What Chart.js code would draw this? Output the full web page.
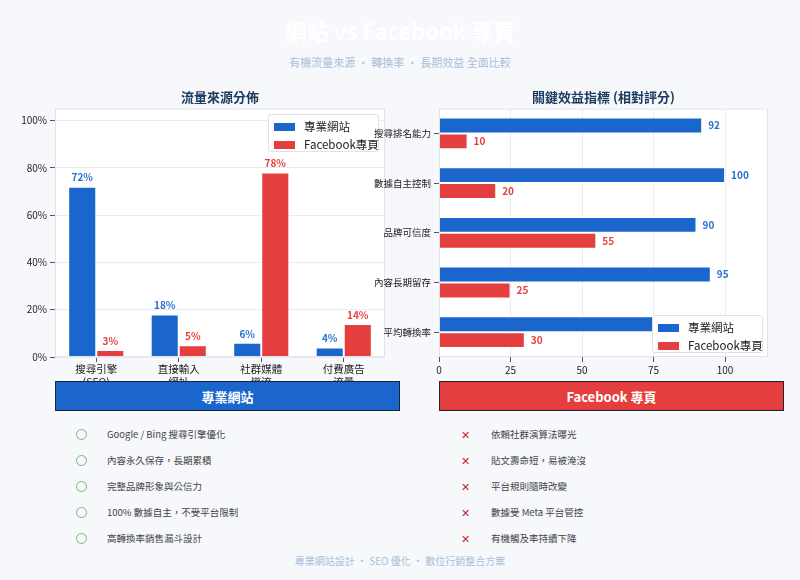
<!DOCTYPE html>
<html>
<head>
<meta charset="utf-8">
<script src="https://cdn.jsdelivr.net/npm/chart.js@4"></script>
<style>
  body { margin: 0; width: 800px; height: 580px; background: #f6f8fc; font-family: "Noto Sans CJK TC", "Noto Sans", sans-serif; position: relative; overflow: hidden; }
  .abs { position: absolute; }
  #title { top: 14px; left: 0; width: 800px; text-align: center; font-size: 22px; font-weight: bold; color: #ffffff; }
  #subtitle { top: 54px; left: 0; width: 800px; text-align: center; font-size: 11px; color: #a9bedb; }
  #footer { top: 553px; left: 0; width: 800px; text-align: center; font-size: 10px; color: #a9bedb; }
  .legend { background: #fff; border: 1px solid #dde2e8; border-radius: 3px; font-size: 11.5px; color: #222; z-index: 5; box-sizing: border-box; padding: 2px 5px; }
  .legend div { height: 18px; line-height: 18px; white-space: nowrap; }
  .legend span { display: inline-block; width: 21px; height: 8px; margin-right: 9px; }
  .banner { top: 381px; width: 345px; height: 30px; line-height: 30px; text-align: center; color: #fff; font-weight: bold; font-size: 13px; box-sizing: border-box; border: 1px solid #1c2533; }
  .item { font-size: 9.5px; color: #444; height: 16px; line-height: 16px; white-space: nowrap; }
  .circ { width: 9px; height: 9px; border: 1.3px solid #6cbf6c; border-radius: 50%; }
  .cross { color: #c62828; font-size: 11px; line-height: 16px; }
</style>
</head>
<body>
<div id="title" class="abs">網站 vs Facebook 專頁</div>
<div id="subtitle" class="abs">有機流量來源 · 轉換率 · 長期效益 全面比較</div>

<canvas id="left" class="abs" width="400" height="305" style="left:0;top:84px;"></canvas>

<div class="legend abs" style="left:268px;top:114px;width:111px;height:38px;">
  <div><span style="background:#1a66cc"></span>專業網站</div>
  <div><span style="background:#e53e3e"></span>Facebook專頁</div>
</div>

<canvas id="right" class="abs" width="460" height="305" style="left:340px;top:84px;z-index:6;"></canvas>

<div class="legend abs" style="left:652px;top:315px;width:111px;height:38px;z-index:7;">
  <div><span style="background:#1a66cc"></span>專業網站</div>
  <div><span style="background:#e53e3e"></span>Facebook專頁</div>
</div>

<div class="banner abs" style="left:55px;background:#1a66cc;z-index:8;">專業網站</div>
<div class="banner abs" style="left:439px;background:#e53e3e;z-index:8;">Facebook 專頁</div>

<div id="lists"></div>
<div id="footer" class="abs">專業網站設計 · SEO 優化 · 數位行銷整合方案</div>

<script>
const sourceLabels = [["搜尋引擎", "(SEO)"], ["直接輸入", "網址"], ["社群媒體", "導流"], ["付費廣告", "流量"]];
const sourceWebsite = [72, 18, 6, 4];
const sourceFacebook = [3, 5, 78, 14];

const metricLabels = ["搜尋排名能力", "數據自主控制", "品牌可信度", "內容長期留存", "平均轉換率"];
const metricWebsite = [92, 100, 90, 95, 85];
const metricFacebook = [10, 20, 55, 25, 30];

const websitePros = ["Google / Bing 搜尋引擎優化", "內容永久保存，長期累積", "完整品牌形象與公信力", "100% 數據自主，不受平台限制", "高轉換率銷售漏斗設計"];
const facebookCons = ["依賴社群演算法曝光", "貼文壽命短，易被淹沒", "平台規則隨時改變", "數據受 Meta 平台管控", "有機觸及率持續下降"];

const BLUE = "#1a66cc", RED = "#e53e3e";
const FONT = "'Noto Sans CJK TC', 'Noto Sans', sans-serif";
Chart.defaults.font.family = FONT;
Chart.defaults.color = "#333";

// lists
let lists = document.getElementById("lists");
websitePros.forEach(function (t, i) {
    let y = 434 + i * 26;
    lists.insertAdjacentHTML("beforeend",
        '<div class="abs circ" style="left:76px;top:' + (y - 5.5) + 'px"></div>' +
        '<div class="abs item" style="left:107px;top:' + (y - 8) + 'px">' + t + '</div>');
});
facebookCons.forEach(function (t, i) {
    let y = 434 + i * 26;
    lists.insertAdjacentHTML("beforeend",
        '<div class="abs cross" style="left:461px;top:' + (y - 8) + 'px">✕</div>' +
        '<div class="abs item" style="left:491px;top:' + (y - 8) + 'px">' + t + '</div>');
});

const plotBox = {
    id: "plotBox",
    beforeDraw(chart) {
        let a = chart.chartArea, c = chart.ctx;
        c.save();
        c.fillStyle = "#fff";
        c.fillRect(a.left, a.top, a.right - a.left, a.bottom - a.top);
        c.restore();
    },
    afterDraw(chart) {
        let a = chart.chartArea, c = chart.ctx;
        c.save();
        c.strokeStyle = "#dfe4ea";
        c.lineWidth = 1;
        c.strokeRect(a.left + 0.5, a.top + 0.5, a.right - a.left - 1, a.bottom - a.top - 1);
        c.restore();
    }
};

const valueLabels = {
    id: "valueLabels",
    afterDatasetsDraw(chart) {
        let c = chart.ctx, horiz = chart.options.indexAxis === "y";
        c.save();
        c.font = "bold 10px " + FONT;
        chart.data.datasets.forEach(function (ds, i) {
            chart.getDatasetMeta(i).data.forEach(function (bar, j) {
                c.fillStyle = ds.labelColor;
                if (horiz) {
                    c.textAlign = "left";
                    c.textBaseline = "middle";
                    c.fillText(ds.data[j], bar.x + 6, bar.y);
                } else {
                    c.textAlign = "center";
                    c.textBaseline = "bottom";
                    c.fillText(ds.data[j] + "%", bar.x, bar.y - 4);
                }
            });
        });
        c.restore();
    }
};

function titleOpt(text) {
    return { display: true, text: text, fullSize: false, color: "#1d3a60", font: { size: 13, weight: "bold" }, padding: { top: 5, bottom: 4 } };
}

new Chart(document.getElementById("left"), {
    type: "bar",
    data: {
        labels: sourceLabels,
        datasets: [
            { label: "專業網站", data: sourceWebsite, backgroundColor: BLUE, borderColor: "rgba(255,255,255,0.5)", borderWidth: 1, labelColor: "#2770cf" },
            { label: "Facebook專頁", data: sourceFacebook, backgroundColor: RED, borderColor: "rgba(255,255,255,0.5)", borderWidth: 1, labelColor: RED }
        ]
    },
    options: {
        responsive: false,
        animation: false,
        layout: { padding: { left: 0, right: 15, top: 0, bottom: 0 } },
        datasets: { bar: { categoryPercentage: 0.68, barPercentage: 1 } },
        plugins: { legend: { display: false }, tooltip: { enabled: false }, title: titleOpt("流量來源分佈") },
        scales: {
            x: {
                grid: { drawOnChartArea: false, offset: false, tickLength: 5, color: "#555" },
                border: { display: false },
                ticks: { color: "#222", font: { size: 10.5 }, padding: 1, maxRotation: 0 },
                afterFit(s) { s.height = 32; }
            },
            y: {
                min: 0, max: 105,
                grid: { color: "#e9edf2", tickLength: 5, tickColor: "#555" },
                border: { display: false },
                ticks: { stepSize: 20, color: "#222", font: { size: 10 }, padding: 3, callback: v => v + "%" },
                afterBuildTicks(s) { s.ticks = s.ticks.filter(t => t.value <= 100); },
                afterFit(s) { s.width = 55; }
            }
        }
    },
    plugins: [plotBox, valueLabels]
});

new Chart(document.getElementById("right"), {
    type: "bar",
    data: {
        labels: metricLabels,
        datasets: [
            { label: "專業網站", data: metricWebsite, backgroundColor: BLUE, borderColor: "rgba(255,255,255,0.5)", borderWidth: 1, labelColor: "#2770cf" },
            { label: "Facebook專頁", data: metricFacebook, backgroundColor: RED, borderColor: "rgba(255,255,255,0.5)", borderWidth: 1, labelColor: RED }
        ]
    },
    options: {
        indexAxis: "y",
        responsive: false,
        animation: false,
        layout: { padding: { left: 0, right: 32, top: 0, bottom: 0 } },
        datasets: { bar: { categoryPercentage: 0.64, barPercentage: 1 } },
        plugins: { legend: { display: false }, tooltip: { enabled: false }, title: titleOpt("關鍵效益指標 (相對評分)") },
        scales: {
            x: {
                min: 0, max: 115,
                grid: { color: "#e9edf2", tickLength: 5, tickColor: "#555" },
                border: { display: false },
                ticks: { stepSize: 25, color: "#222", font: { size: 10 }, padding: 2 },
                afterBuildTicks(s) { s.ticks = s.ticks.filter(t => t.value <= 100); },
                afterFit(s) { s.height = 32; }
            },
            y: {
                grid: { drawOnChartArea: false, offset: false, tickLength: 5, color: "#555" },
                border: { display: false },
                ticks: { color: "#222", font: { size: 9.5 }, padding: 3 },
                afterFit(s) { s.width = 99; }
            }
        }
    },
    plugins: [plotBox, valueLabels]
});
</script>
</body>
</html>
